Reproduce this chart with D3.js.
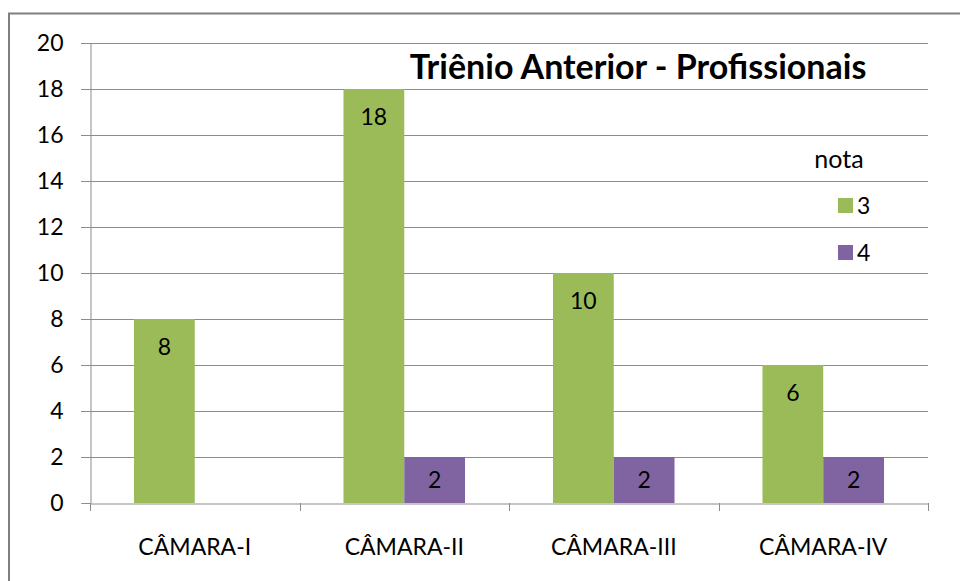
<!DOCTYPE html>
<html>
<head>
<meta charset="utf-8">
<style>
body { margin: 0; background: #fff; }
svg { display: block; }
text { font-family: Lato, "Open Sans", sans-serif; fill: #000; }
</style>
<script src="https://d3js.org/d3.v7.min.js"></script>
</head>
<body>
<div id="chart"></div>
<script>
// data
var categories = ["CÂMARA-I", "CÂMARA-II", "CÂMARA-III", "CÂMARA-IV"]
var seriesNames = ["3", "4"]
var nota3 = [8, 18, 10, 6]
var nota4 = [null, 2, 2, 2]
var yTicks = [0, 2, 4, 6, 8, 10, 12, 14, 16, 18, 20]
var colors = ["#9BBB59", "#8064A2"]

var width = 960,
    height = 581

var svg = d3.select("#chart")
  .append("svg")
    .attr("width", width)
    .attr("height", height)

// outer frame (only top and left are visible in the picture)
svg.append("path")
  .attr("d", "M9,581 V13.5 H960")
  .attr("fill", "none")
  .attr("stroke", "#7f7f7f")
  .attr("stroke-width", 2)

var x0 = d3.scaleBand()
  .domain(categories)
  .range([90, 928])

var x1 = d3.scaleBand()
  .domain(seriesNames)
  .range([0, x0.bandwidth()])
  .paddingOuter(0.724)

var y = d3.scaleLinear()
  .domain([0, 20])
  .range([503, 43])

// gridlines
svg.append("g")
  .selectAll("line")
  .data(yTicks.filter(function(d) { return d > 0 }))
  .enter()
  .append("line")
    .attr("x1", 81)
    .attr("x2", 928)
    .attr("y1", function(d) { return Math.round(y(d)) + 0.5 })
    .attr("y2", function(d) { return Math.round(y(d)) + 0.5 })
    .attr("stroke", "#8c8c8c")
    .attr("stroke-width", 1)

// y axis
var yAxis = svg.append("g")
  .attr("transform", "translate(90.5,0)")
  .call(d3.axisLeft(y).tickValues(yTicks).tickSize(9).tickPadding(18))
yAxis.select(".domain").attr("stroke", "#8c8c8c")
yAxis.selectAll(".tick line").attr("stroke", "#8c8c8c")
yAxis.selectAll(".tick text")
  .style("font-family", "Lato, sans-serif")
  .style("font-size", "23px")
  .attr("fill", "#000")

// bars
var rows = categories.map(function(c, i) {
  return { cat: c, values: [nota3[i], nota4[i]] }
})

var groups = svg.append("g")
  .selectAll("g")
  .data(rows)
  .enter()
  .append("g")
    .attr("transform", function(d) { return "translate(" + x0(d.cat) + ",0)" })

var bars = groups.selectAll("g")
  .data(function(d) {
    return seriesNames.map(function(s, j) { return { key: s, value: d.values[j], j: j } })
      .filter(function(d) { return d.value != null })
  })
  .enter()
  .append("g")

bars.append("rect")
  .attr("x", function(d) { return x1(d.key) })
  .attr("width", x1.bandwidth())
  .attr("y", function(d) { return y(d.value) })
  .attr("height", function(d) { return y(0) - y(d.value) })
  .attr("fill", function(d) { return colors[d.j] })

bars.append("text")
  .text(function(d) { return d.value })
  .attr("x", function(d) { return x1(d.key) + x1.bandwidth() / 2 })
  .attr("y", function(d) {
    var top = y(d.value), bottom = y(0)
    return Math.min(top + 28, (top + bottom) / 2)
  })
  .attr("dy", "0.35em")
  .style("text-anchor", "middle")
  .style("font-size", "23px")

// x axis
var xAxis = svg.append("g")
  .attr("transform", "translate(0,503.5)")
  .call(d3.axisBottom(x0).tickSize(0).tickPadding(35))
xAxis.select(".domain").attr("stroke", "#8c8c8c")
xAxis.selectAll(".tick text")
  .style("font-family", "Lato, sans-serif")
  .style("font-size", "23px")
  .attr("fill", "#000")

// category separators
svg.append("g")
  .selectAll("line")
  .data(categories.concat(["end"]))
  .enter()
  .append("line")
    .attr("x1", function(d, i) { return Math.round(90 + i * x0.step()) + 0.5 })
    .attr("x2", function(d, i) { return Math.round(90 + i * x0.step()) + 0.5 })
    .attr("y1", 503)
    .attr("y2", 511)
    .attr("stroke", "#8c8c8c")

// title
svg.append("text")
  .text("Triênio Anterior - Profissionais")
  .attr("x", 638)
  .attr("y", 79)
  .style("text-anchor", "middle")
  .style("font-weight", "bold")
  .style("font-size", "34px")

// legend
svg.append("text")
  .text("nota")
  .attr("x", 839)
  .attr("y", 168)
  .style("text-anchor", "middle")
  .style("font-size", "25px")

var legend = svg.append("g")
  .selectAll("g")
  .data(seriesNames)
  .enter()
  .append("g")
    .attr("transform", function(d, i) { return "translate(838," + (198 + i * 47) + ")" })

legend.append("rect")
  .attr("width", 15)
  .attr("height", 15)
  .attr("fill", function(d, i) { return colors[i] })

legend.append("text")
  .text(function(d) { return d })
  .attr("x", 19)
  .attr("y", 8)
  .attr("dy", "0.35em")
  .style("font-size", "23px")
</script>
</body>
</html>
